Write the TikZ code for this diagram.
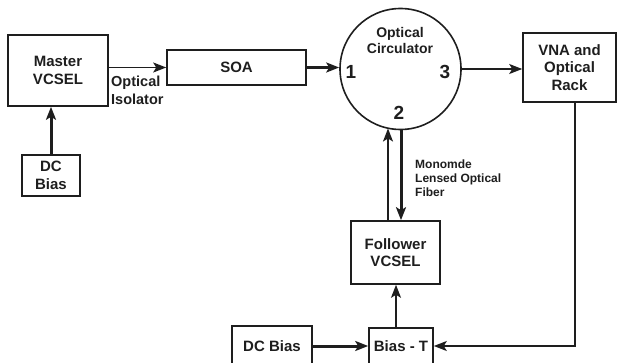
\documentclass[tikz,border=0pt]{standalone}
\usepackage{fontspec}
\setmainfont{Liberation Sans}
\usetikzlibrary{arrows.meta}
\definecolor{ink}{HTML}{1E1E1E}
\begin{document}
\begin{tikzpicture}[x=1pt,y=-1pt,
  box/.style={draw=ink,line width=1.6pt,rectangle,inner sep=0pt,align=center,text=ink,
    font=\fontsize{15}{17.5}\selectfont\bfseries},
  lbl/.style={inner sep=0pt,align=left,text=ink},
  thin/.style={draw=ink,line width=1.5pt,-{Stealth[length=13pt,width=10pt,inset=3pt]}},
  thick/.style={draw=ink,line width=3pt,-{Stealth[length=13pt,width=10pt,inset=3pt]}},
  plain/.style={draw=ink,line width=1.5pt}]
\useasboundingbox (0,0) rectangle (618,363);
% boxes
\node[box,minimum width=100pt,minimum height=71pt] (master) at (58,70.5) {Master\\VCSEL};
\node[box,minimum width=139pt,minimum height=35pt] (soa) at (236.5,67.5) {SOA};
\node[box,minimum width=58pt,minimum height=41pt] (dcb1) at (51,175.5) {DC\\Bias};
\node[draw=ink,line width=1.6pt,circle,minimum size=121pt,inner sep=0pt] (circ) at (400.5,69) {};
\node[box,minimum width=93pt,minimum height=69pt] (vna) at (569.5,67.5) {VNA and\\Optical\\Rack};
\node[box,minimum width=89pt,minimum height=63pt] (follower) at (395.5,252.5) {Follower\\VCSEL};
\node[box,minimum width=64pt,minimum height=36pt] (biast) at (401,346) {Bias - T};
\node[box,minimum width=80pt,minimum height=40pt] (dcb2) at (272,346) {DC Bias};
% labels
\node[lbl,anchor=north west,font=\fontsize{14.5}{17.5}\selectfont\bfseries] (iso) at (111,76) {Optical\\Isolator};
\node[lbl,align=center,font=\fontsize{14}{16}\selectfont\bfseries] (circt) at (400,40) {Optical\\Circulator};
\node[lbl,font=\fontsize{19}{20}\selectfont\bfseries] (p1) at (351,72) {1};
\node[lbl,font=\fontsize{19}{20}\selectfont\bfseries] (p3) at (445,72) {3};
\node[lbl,font=\fontsize{19}{20}\selectfont\bfseries] (p2) at (399,113) {2};
\node[lbl,anchor=north west,font=\fontsize{12}{14}\selectfont\bfseries] (fib) at (415,159.5) {Monomde\\Lensed Optical\\Fiber};
% coordinates
\coordinate (cl) at (388,128.5);
\coordinate (cr) at (401,129.5);
\coordinate (vc) at (575,346);
% connectors
\draw[thin] (master.east |- soa.west) -- (soa.west);
\draw[thick] (dcb1.north) -- (master.south -| dcb1.north);
\draw[thick] (soa.east) -- (circ.west |- soa.east);
\draw[thin] (circ.east) -- (vna.west |- circ.east);
\draw[thin] (follower.north -| cl) -- (cl);
\draw[thick] (cr) -- (follower.north -| cr);
\draw[thin] (biast.north -| 396,0) -- (follower.south -| 396,0);
\draw[thick] (dcb2.east) -- (biast.west);
\draw[thin] (vna.south -| vc) -- (vc) -- (biast.east);
\end{tikzpicture}
\end{document}
